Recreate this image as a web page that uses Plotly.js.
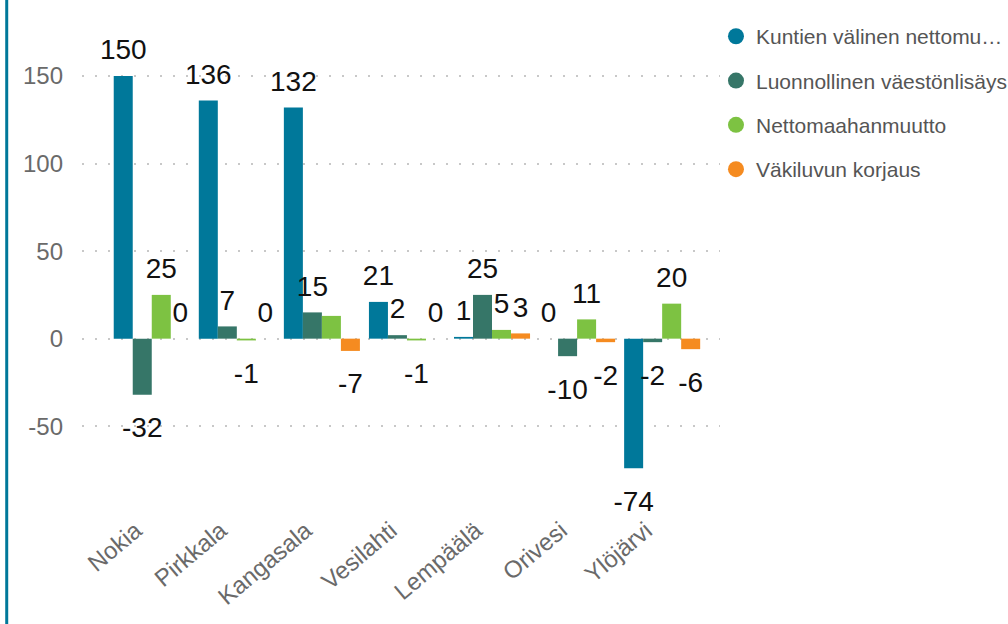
<!DOCTYPE html>
<html><head><meta charset="utf-8">
<script src="https://cdn.plot.ly/plotly-3.0.1.min.js"></script>
<style>html,body{margin:0;padding:0;background:#fff;}#chart{width:1008px;height:624px;}</style>
</head><body><div id="chart"></div>
<script>
const categories = ["Nokia","Pirkkala","Kangasala","Vesilahti","Lempäälä","Orivesi","Ylöjärvi"];
const seriesNames = ["Kuntien välinen nettomu…","Luonnollinen väestönlisäys","Nettomaahanmuutto","Väkiluvun korjaus"];
const kuntienValinen = [150,136,132,21,1,0,-74];
const luonnollinen = [-32,7,15,2,25,-10,-2];
const nettomaahanmuutto = [25,-1,13,-1,5,11,20];
const vakiluvunKorjaus = [0,0,-7,0,3,-2,-6];
const colors = ["#00789A","#367668","#7DC242","#F58B20"];
const allSeries = [kuntienValinen, luonnollinen, nettomaahanmuutto, vakiluvunKorjaus];
const hiddenLabels = [[],[],[2],[]];
const tickVals = [-50,0,50,100,150];

function labelFor(v){
  const big = '<span style="font-size:28px">' + v + '</span>';
  return v < 0 ? ' <br>' + big : big + '<br> ';
}

const traces = [];
allSeries.forEach((vals, s) => {
  traces.push({
    type:'bar', x:categories, y:vals, name:seriesNames[s], showlegend:false,
    marker:{color:colors[s]},
    text: vals.map((v,i)=> hiddenLabels[s].includes(i) ? '' : labelFor(v)),
    textposition:'outside', constraintext:'none', cliponaxis:false,
    textfont:{family:'Liberation Sans, Arial, sans-serif', size:vals.map(v => v < 0 ? 18 : 9), color:'#111'},
    hoverinfo:'x+y'
  });
});
seriesNames.forEach((n, s) => {
  traces.push({
    type:'scatter', mode:'markers', x:[null], y:[null], name:n, legendgroup:'g'+s,
    marker:{symbol:'circle', size:20, color:colors[s]}, showlegend:true, hoverinfo:'skip'
  });
});

const layout = {
  width:1008, height:624,
  margin:{l:82, r:288, t:20, b:119, autoexpand:false},
  paper_bgcolor:'#fff', plot_bgcolor:'#fff',
  font:{family:'Liberation Sans, Arial, sans-serif', color:'#666'},
  barmode:'group', bargap:0.106, bargroupgap:0,
  xaxis:{type:'category', range:[-0.82,6.68], tickangle:-40, showgrid:false, zeroline:false,
         showline:false, ticks:'', automargin:false, ticklabelshift:-16, ticklabelstandoff:6,
         tickfont:{size:24, color:'#6a6a6a'}},
  yaxis:{range:[-95,182], tickvals:tickVals, ticktext:tickVals.map(String), showgrid:true,
         gridcolor:'#c8c8c8', griddash:'2px,11px', gridwidth:2, zeroline:false, showline:false,
         ticks:'', automargin:false, ticklabelstandoff:18, tickfont:{size:24, color:'#6a6a6a'}},
  legend:{x:0.9937, xanchor:'left', y:1.008, yanchor:'top', xref:'paper', yref:'paper',
          font:{size:21, color:'#555'}, traceorder:'grouped', tracegroupgap:14,
          itemwidth:30, bgcolor:'rgba(0,0,0,0)'},
  shapes:[{type:'line', xref:'paper', yref:'paper', x0:-0.118, x1:-0.118, y0:-0.3, y1:1.1,
           line:{color:'#00789A', width:3}}],
  showlegend:true
};
Plotly.newPlot('chart', traces, layout, {displayModeBar:false, staticPlot:true});
</script></body></html>
